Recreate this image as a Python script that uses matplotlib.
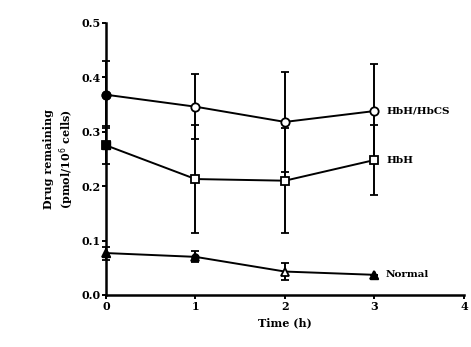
import matplotlib.pyplot as plt

# time points (h)
time = [0, 1, 2, 3]

# HbH/HbCS group
cs_mean = [0.368, 0.346, 0.318, 0.338]
cs_err = [0.062, 0.060, 0.092, 0.087]

# HbH group
hbh_mean = [0.275, 0.213, 0.210, 0.248]
hbh_err = [0.035, 0.099, 0.096, 0.065]

# normal group
norm_mean = [0.077, 0.070, 0.043, 0.037]
norm_err = [0.012, 0.010, 0.016, 0.0]

fig = plt.figure(figsize=(4.71, 3.47), dpi=100)
ax = fig.add_axes([0.225, 0.150, 0.760, 0.784])

style = dict(color="black", lw=1.4, capsize=3, capthick=1.4, elinewidth=1.4,
             markersize=6, markeredgewidth=1.3, clip_on=False, zorder=3)

ax.errorbar(time, cs_mean, yerr=cs_err, fmt="-o", markerfacecolor="white", **style)
ax.errorbar(time, hbh_mean, yerr=hbh_err, fmt="-s", markerfacecolor="white", **style)
ax.errorbar(time, norm_mean, yerr=norm_err, fmt="-^", markerfacecolor="white", **style)

# first points look filled in the original
ax.plot(time[0], cs_mean[0], "o", color="black", ms=6, clip_on=False, zorder=4)
ax.plot(time[0], hbh_mean[0], "s", color="black", ms=6, clip_on=False, zorder=4)
ax.plot(time[0], norm_mean[0], "^", color="black", ms=6, clip_on=False, zorder=4)
ax.plot(time[1], norm_mean[1], "o", color="black", ms=5, clip_on=False, zorder=4)
ax.plot(time[3], norm_mean[3], "^", color="black", ms=6, clip_on=False, zorder=4)

txt = dict(fontsize=7.5, fontweight="bold", family="DejaVu Serif", va="center")
ax.text(time[3] + 0.13, cs_mean[3], "HbH/HbCS", **txt)
ax.text(time[3] + 0.13, hbh_mean[3], "HbH", **txt)
ax.text(time[3] + 0.13, norm_mean[3], "Normal", **txt)

ax.set_xlim(0, 4)
ax.set_ylim(0, 0.5)
ax.set_xticks([0, 1, 2, 3, 4])
ax.set_yticks([0.0, 0.1, 0.2, 0.3, 0.4, 0.5])
ax.set_yticklabels(["0.0", "0.1", "0.2", "0.3", "0.4", "0.5"])
ax.spines["top"].set_visible(False)
ax.spines["right"].set_visible(False)
ax.spines["left"].set_linewidth(1.8)
ax.spines["bottom"].set_linewidth(1.8)
ax.tick_params(direction="out", length=3, width=1.4, labelsize=8, pad=1)
for lab in ax.get_xticklabels() + ax.get_yticklabels():
    lab.set_fontweight("bold")
    lab.set_family("DejaVu Serif")

ax.set_xlabel("Time (h)", fontsize=8, fontweight="bold", family="DejaVu Serif", labelpad=4)
ax.set_ylabel("Drug remaining\n(pmol/10$^6$ cells)", fontsize=8, fontweight="bold",
              family="DejaVu Serif", labelpad=4)

fig.savefig("out.png", dpi=100)
